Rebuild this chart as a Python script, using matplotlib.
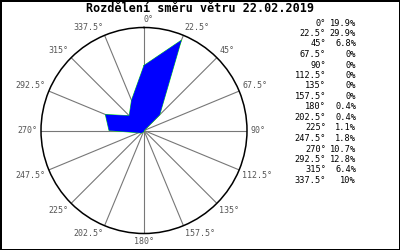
import numpy as np
import matplotlib
matplotlib.use("Agg")
import matplotlib.pyplot as plt

# wind direction distribution (degrees, share in %)
directions = [0, 22.5, 45, 67.5, 90, 112.5, 135, 157.5,
              180, 202.5, 225, 247.5, 270, 292.5, 315, 337.5]
shares = [19.9, 29.9, 6.8, 0, 0, 0, 0, 0,
          0.4, 0.4, 1.1, 1.8, 10.7, 12.8, 6.4, 10]
dir_labels = ["0°", "22.5°", "45°", "67.5°", "90°", "112.5°", "135°", "157.5°",
              "180°", "202.5°", "225°", "247.5°", "270°", "292.5°", "315°", "337.5°"]
share_labels = ["19.9%", "29.9%", "6.8%", "0%", "0%", "0%", "0%", "0%",
                "0.4%", "0.4%", "1.1%", "1.8%", "10.7%", "12.8%", "6.4%", "10%"]
title = "Rozdělení směru větru 22.02.2019"

W, H = 400, 250
plt.rcParams['font.family'] = ['DejaVu Sans Mono']

fig = plt.figure(figsize=(W / 100, H / 100), dpi=100,
                 linewidth=2, edgecolor='black', facecolor='white')

# polar axes: center (144, 130.5) px, radius 103 px
cx, cy, R = 144, 130.5, 103
ax = fig.add_axes([(cx - R) / W, (H - cy - R) / H, 2 * R / W, 2 * R / H],
                  projection='polar')
ax.set_theta_zero_location('N')
ax.set_theta_direction(-1)
rmax = 31.5
ax.set_ylim(0, rmax)
ax.set_yticks([])
ax.set_xticks(np.radians(directions))
ax.set_xticklabels([])
ax.xaxis.grid(True, color='#777777', linewidth=0.8)
ax.spines['polar'].set_color('black')
ax.spines['polar'].set_linewidth(1.1)
ax.set_facecolor('white')

theta = np.radians(directions + [directions[0]])
vals = shares + [shares[0]]
# green outline peeking out from under the blue fill
ax.plot(theta, vals, color='#00ee00', linewidth=0.6, zorder=3)
ax.fill(theta, vals, color='#0000ff', linewidth=0, zorder=4)

# direction labels around the circle
for d, lab in zip(directions, dir_labels):
    s, c = np.sin(np.radians(d)), np.cos(np.radians(d))
    if abs(d - 180) < 1:
        ha = 'center'
    elif s > -0.01:
        ha = 'left'
    else:
        ha = 'right'
    if c > 0.1:
        va = 'bottom'
    elif c < -0.1:
        va = 'top'
    else:
        va = 'center'
    ax.text(np.radians(d), rmax * 1.035, lab, ha=ha, va=va,
            fontsize=6, color='#555555', clip_on=False)

fig.text(200 / W, 1 - 9 / H, title, ha='center', va='center',
         fontsize=8.5, fontweight='bold', color='black')

# legend table on the right
for i, (lab, sl) in enumerate(zip(dir_labels, share_labels)):
    y = 1 - (23 + i * 10.5) / H
    fig.text(326 / W, y, lab, ha='right', va='center', fontsize=6.2, color='black')
    fig.text(356 / W, y, sl, ha='right', va='center', fontsize=6.2, color='black')

fig.savefig("out.png", dpi=100, facecolor='white', edgecolor='black')
